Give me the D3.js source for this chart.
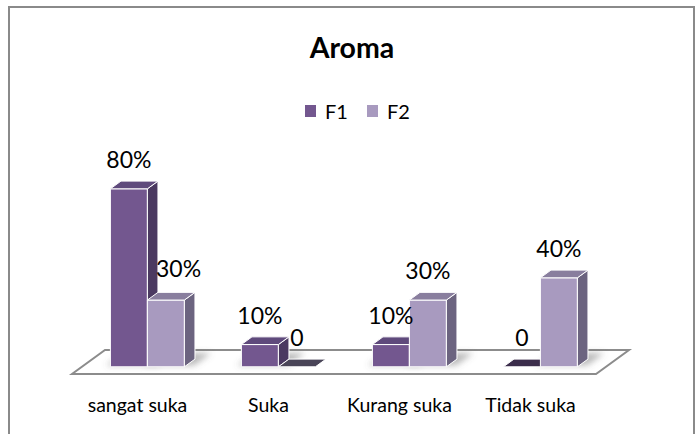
<!DOCTYPE html>
<html>
<head>
<meta charset="utf-8">
<style>
  body { margin: 0; background: #fff; }
  svg { display: block; }
  text { font-family: Lato, "Open Sans", sans-serif; fill: #000; }
</style>
</head>
<body>
<svg width="699" height="434"></svg>
<script src="https://d3js.org/d3.v7.min.js"></script>
<script>

const categories = ["sangat suka", "Suka", "Kurang suka", "Tidak suka"];
const series = ["F1", "F2"];
const valuesF1 = [0.8, 0.1, 0.1, 0];
const valuesF2 = [0.3, 0, 0.3, 0.4];

const colors = {
  F1: { front: "#73578f", side: "#4b3961", top: "#5f4a7c", flat: "#3b2d4b" },
  F2: { front: "#a89abf", side: "#6c6480", top: "#897e9e", flat: "#4a4558" }
};

const svg = d3.select("svg");

// chart border
svg.append("rect")
  .attr("x", 9).attr("y", 7)
  .attr("width", 685).attr("height", 440)
  .attr("fill", "none")
  .attr("stroke", "#8a8a8a")
  .attr("stroke-width", 2);

// title
svg.append("text")
  .attr("x", 352).attr("y", 58)
  .attr("text-anchor", "middle")
  .attr("font-size", 28.5)
  .attr("font-weight", "bold")
  .text("Aroma");

// legend
const legend = svg.append("g").attr("transform", "translate(305,105)");
const legendItem = legend.selectAll("g")
  .data(series)
  .enter()
  .append("g")
  .attr("transform", (d, i) => "translate(" + (i * 62) + ",0)");
legendItem.append("rect")
  .attr("width", 11).attr("height", 12)
  .attr("fill", d => colors[d].front);
legendItem.append("text")
  .attr("x", 20).attr("y", 14)
  .attr("font-size", 20)
  .text(d => d);

// oblique 3D projection: floor front edge y, depth vector
const baseY = 374;
const depth = { dx: 33, dy: -24 };
const barDepth = [0.3, 0.62];

function proj(xw, z, h) {
  return [xw + depth.dx * z, baseY + depth.dy * z - h];
}

const x0 = d3.scaleBand()
  .domain(categories)
  .range([72, 596]);

const x1 = d3.scaleBand()
  .domain(series)
  .range([0, x0.bandwidth()])
  .paddingOuter(0.77);

const y = d3.scaleLinear()
  .domain([0, 0.8])
  .range([0, 178]);

const defs = svg.append("defs");
defs.append("filter")
  .attr("id", "blur")
  .attr("x", "-50%").attr("y", "-50%")
  .attr("width", "200%").attr("height", "200%")
  .append("feGaussianBlur")
  .attr("stdDeviation", 3);

// floor
const floorPts = [
  proj(x0.range()[0], 0, 0), proj(x0.range()[1], 0, 0),
  proj(x0.range()[1], 1, 0), proj(x0.range()[0], 1, 0)
];
svg.append("polygon")
  .attr("points", floorPts.map(p => p.join(",")).join(" "))
  .attr("fill", "#fff")
  .attr("stroke", "#8c8c8c")
  .attr("stroke-width", 2);

const bars = [];
categories.forEach((c, i) => {
  bars.push({ cat: c, s: "F1", v: valuesF1[i] });
  bars.push({ cat: c, s: "F2", v: valuesF2[i] });
});
bars.forEach(d => {
  d.xa = x0(d.cat) + x1(d.s);
  d.xb = d.xa + x1.bandwidth();
  d.h = y(d.v);
});

const poly = pts => pts.map(p => p.join(",")).join(" ");

// soft shadows on the floor
svg.append("g")
  .attr("filter", "url(#blur)")
  .selectAll("polygon")
  .data(bars.filter(d => d.v > 0))
  .enter()
  .append("polygon")
  .attr("fill", "#666")
  .attr("opacity", 0.45)
  .attr("points", d => poly([
    proj(d.xa - 6, barDepth[0] + 0.05, 0), proj(d.xb + 8, barDepth[0] + 0.05, 0),
    proj(d.xb + 8, barDepth[1] + 0.25, 0), proj(d.xa - 6, barDepth[1] + 0.25, 0)
  ]));

const barG = svg.append("g")
  .selectAll("g")
  .data(bars)
  .enter()
  .append("g")
  .attr("stroke", "#fff")
  .attr("stroke-width", 1)
  .attr("stroke-linejoin", "round");

barG.each(function(d) {
  const g = d3.select(this);
  const [z0, z1] = barDepth;
  const c = colors[d.s];
  if (d.v === 0) {
    g.append("polygon")
      .attr("fill", c.flat)
      .attr("points", poly([proj(d.xa, z0, 0), proj(d.xb, z0, 0), proj(d.xb, z1, 0), proj(d.xa, z1, 0)]));
    return;
  }
  g.append("polygon")
    .attr("fill", c.front)
    .attr("points", poly([proj(d.xa, z0, 0), proj(d.xb, z0, 0), proj(d.xb, z0, d.h), proj(d.xa, z0, d.h)]));
  g.append("polygon")
    .attr("fill", c.side)
    .attr("points", poly([proj(d.xb, z0, 0), proj(d.xb, z1, 0), proj(d.xb, z1, d.h), proj(d.xb, z0, d.h)]));
  g.append("polygon")
    .attr("fill", c.top)
    .attr("points", poly([proj(d.xa, z0, d.h), proj(d.xb, z0, d.h), proj(d.xb, z1, d.h), proj(d.xa, z1, d.h)]));
});

// value labels
const fmt = v => v === 0 ? "0" : d3.format(".0%")(v);
const labels = svg.append("g")
  .selectAll("text")
  .data(bars)
  .enter()
  .append("text")
  .attr("text-anchor", "middle")
  .attr("font-size", 23)
  .attr("x", d => proj((d.xa + d.xb) / 2, barDepth[0], 0)[0])
  .attr("y", d => proj(d.xa, barDepth[1], d.h)[1] - 13)
  .text(d => fmt(d.v));

// push a label right when it would sit on the taller bar to its left
labels.each(function(d, i) {
  if (d.s !== "F2") return;
  const prev = bars[i - 1];
  const w = this.getComputedTextLength();
  const cx = +d3.select(this).attr("x");
  const prevRight = proj(prev.xb, barDepth[1], 0)[0];
  const prevTop = proj(prev.xa, barDepth[1], prev.h)[1];
  if (prevTop < +d3.select(this).attr("y") - 16 && cx - w / 2 < prevRight) {
    d3.select(this).attr("x", prevRight - 2 + w / 2).attr("y", +d3.select(this).attr("y") - 2);
  }
});

// category labels
svg.append("g")
  .selectAll("text")
  .data(categories)
  .enter()
  .append("text")
  .attr("text-anchor", "middle")
  .attr("font-size", 19.5)
  .attr("x", d => x0(d) + x0.bandwidth() / 2)
  .attr("y", 412)
  .text(d => d);

</script>
</body>
</html>
